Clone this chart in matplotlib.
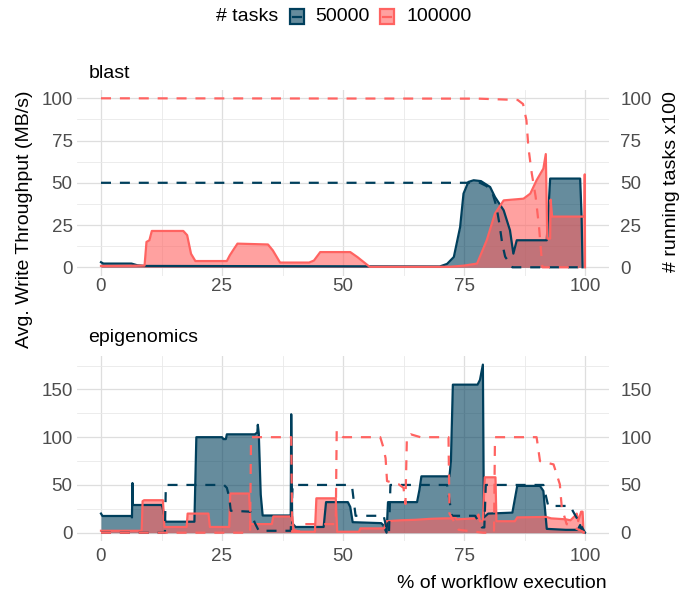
import matplotlib
matplotlib.use('Agg')
import matplotlib.pyplot as plt
from matplotlib.patches import Rectangle
from matplotlib.lines import Line2D
from matplotlib.ticker import MultipleLocator

plt.rcParams['font.family'] = ['Liberation Sans', 'DejaVu Sans']

BLUE = '#003f5c'
RED = '#ff6361'
TICK = '#4d4d4d'

# ---- blast: write throughput (MB/s) ----
blast_50k_x = [0, 0.5, 6.3, 7.5, 9, 70, 71.5, 72.9, 74.2, 74.9, 75.9, 77, 78.5, 80.4,
               81.4, 83.2, 84.5, 85.2, 85.9, 92.1, 92.8, 99.0, 99.3, 99.5]
blast_50k_y = [3, 2.2, 2.2, 1.2, 0.8, 0.5, 2, 6.1, 23.8, 43.6, 50.5, 51.5, 51, 47.5,
               41.6, 33.7, 21.9, 8.1, 16, 16, 52.5, 52.5, 29.8, 0]
blast_100k_x = [0, 9.0, 9.4, 10.0, 10.5, 17.0, 17.8, 18.6, 19.5, 26.0, 26.6, 27.5, 28.2,
                34.5, 35.5, 37.0, 43.0, 44.0, 45.3, 51.5, 53.0, 55.5, 72.0, 75.0, 77.7,
                79.7, 81.4, 83.2, 87.3, 88.7, 90.0, 91.4, 91.9, 92.2, 92.8, 92.9, 93.2,
                99.9, 99.95, 100]
blast_100k_y = [0.8, 1.0, 15, 16, 21.5, 21.5, 19, 8, 3.7, 3.7, 7, 11, 14,
                13.5, 10, 2.8, 2.8, 4, 9, 9, 6, 0.3, 0.3, 1, 2.2,
                16, 31.8, 39.6, 40.6, 43.6, 51.5, 58.4, 67, 17, 17, 40, 30,
                30, 55, 0]
# ---- blast: running tasks (x100) ----
blast_50k_tasks_x = [0, 78.3, 79.7, 80.9, 81.7, 82.3, 82.9, 83.5, 85, 98.7]
blast_50k_tasks_y = [50, 50, 48, 43.8, 36, 26, 14, 6.3, 0, 0]
blast_100k_tasks_x = [0, 78, 86.1, 87.2, 87.9, 88.3, 89.0, 89.8, 90.5, 90.9, 91.2, 98.7]
blast_100k_tasks_y = [100, 99.8, 99, 96.6, 87, 71, 55.6, 41.8, 24, 10, 0, 0]

# ---- epigenomics: write throughput (MB/s) ----
epi_50k_x = [0, 0.3, 6.3, 6.4, 6.5, 6.6, 12.5, 12.7, 13.3, 19.3, 19.7, 25.0, 25.3, 25.8,
             26.0, 31.8, 32.3, 32.4, 32.6, 33.0, 33.4, 39.2, 39.3, 39.5, 40.2, 46.0,
             46.5, 51.0, 51.5, 52.0, 57.9, 58.3, 59.0, 59.3, 65.3, 65.8, 66.2, 72.0,
             72.3, 72.7, 77.8, 78.3, 78.9, 79.0, 79.1, 80.0, 85.0, 85.5, 86.0, 90.7,
             91.4, 92.1, 96.0, 98.5, 99.0, 99.3, 100]
epi_50k_y = [20, 17.5, 17.5, 16, 52, 29, 29, 27, 11.5, 11.5, 100, 100, 98, 98,
             103, 103, 105, 113, 104, 40, 18, 18, 124, 10, 6, 6,
             32, 32, 27, 11, 10, 8, 0, 32, 32, 45, 59, 59,
             75, 155, 155, 160, 176, 100, 16, 20, 21, 35, 49, 49,
             43.7, 4, 3, 3, 8, 2, 0]
epi_100k_x = [0, 8.4, 8.6, 8.9, 12.8, 13.1, 17.7, 17.9, 22.2, 22.5, 26.5, 26.7, 30.6,
              30.9, 35.3, 35.6, 39.5, 39.8, 41.0, 44.2, 44.5, 48.5, 48.8, 53.3, 53.6,
              58.5, 58.9, 62.0, 65.0, 68.0, 71.0, 72.5, 73.0, 73.5, 77.5, 78.0, 78.3,
              78.9, 79.3, 81.5, 81.7, 85.5, 86.0, 92.0, 93.0, 96.0, 97.0, 98.0, 98.3,
              98.6, 99.2, 99.5, 99.7]
epi_100k_y = [2, 2, 33, 34, 34, 6, 6, 20, 20, 6, 6, 41, 41,
              9, 9, 17, 17, 3, 1, 1, 36, 36, 1, 1, 4.5,
              4.5, 12, 13, 13.5, 14.5, 15, 15, 17, 14, 15, 19, 12,
              12, 58, 58, 12, 12, 16, 16.5, 15, 14, 13, 18, 20,
              12, 22, 22, 0]
# ---- epigenomics: running tasks (x100) ----
epi_50k_tasks_x = [0, 13.2, 13.4, 25.4, 26.0, 26.5, 26.8, 30.9, 31.8, 32.6, 39.2, 39.6,
                   51.5, 51.9, 52.6, 58.4, 59.2, 59.5, 59.8, 71.5, 72.5, 77.3, 78.7,
                   79.2, 79.5, 91.4, 92.4, 96.9, 100]
epi_50k_tasks_y = [0, 0, 50, 50, 47, 37, 23, 22, 10, 2, 2, 50,
                   50, 47, 17.7, 17.7, 0, 0, 50, 50, 17.7, 17.7, 5.5,
                   5.5, 50, 50, 28, 28, 0]
epi_100k_tasks_x = [0, 30.8, 31.0, 39.3, 39.5, 41.0, 42.0, 48.5, 48.7, 50.0, 57.7, 58.3,
                    58.8, 59.1, 61.5, 62.5, 62.9, 63.2, 64.0, 66.0, 71.8, 72.0, 73.9,
                    79.0, 81.2, 81.4, 90.0, 90.7, 93.5, 94.8, 95.2, 96.2, 100]
epi_100k_tasks_y = [0, 0, 100, 100, 1, 1, 9, 9, 107, 100, 100, 90,
                    78, 54, 50.7, 47, 30, 100, 103, 100, 100, 20, 3,
                    0, 0, 100, 100, 75, 71.5, 50.7, 26.4, 9, 0]

x_ticks = [0, 25, 50, 75, 100]

W, H = 694, 591
fig = plt.figure(figsize=(W / 100, H / 100), dpi=100)


def px_rect(x0, y0, x1, y1):
    # pixel box (top-left origin) -> figure fraction rect
    return [x0 / W, 1 - y1 / H, (x1 - x0) / W, (y1 - y0) / H]


def draw_panel(rect, ylim, ymajor, yminor, series, tasks, xpad):
    ax = fig.add_axes(rect)
    ax.set_xlim(-5, 105)
    ax.set_ylim(*ylim)
    ax.xaxis.set_major_locator(MultipleLocator(25))
    ax.xaxis.set_minor_locator(MultipleLocator(12.5))
    ax.yaxis.set_major_locator(MultipleLocator(ymajor))
    ax.yaxis.set_minor_locator(MultipleLocator(yminor))
    ax.grid(which='major', color='#dedede', lw=0.9)
    ax.grid(which='minor', color='#e9e9e9', lw=0.6)
    ax.set_axisbelow(True)
    for s in ax.spines.values():
        s.set_visible(False)
    ax.tick_params(which='both', length=0, labelsize=13.5, labelcolor=TICK)
    ax.tick_params(axis='x', pad=xpad)
    ax.tick_params(axis='y', pad=3)

    for (xs, ys), c in zip(series, [BLUE, RED]):
        ax.fill_between(xs, ys, 0, color=c, alpha=0.6, lw=0)
        ax.plot(xs, ys, color=c, lw=1.6, solid_joinstyle='round')
    for (xs, ys), c in zip(tasks, [BLUE, RED]):
        ax.plot(xs, ys, color=c, lw=1.6, ls=(0, (4.5, 4)), dash_capstyle='butt')

    ax2 = ax.twinx()
    ax2.set_ylim(*ylim)
    ax2.yaxis.set_major_locator(MultipleLocator(ymajor))
    for s in ax2.spines.values():
        s.set_visible(False)
    ax2.tick_params(which='both', length=0, labelsize=13.5, labelcolor=TICK, pad=8)
    ax.set_xticks(x_ticks)
    return ax


ax_top = draw_panel(px_rect(76.8, 89.85, 609.2, 275.75), (-5, 105), 25, 12.5,
                    [(blast_50k_x, blast_50k_y), (blast_100k_x, blast_100k_y)],
                    [(blast_50k_tasks_x, blast_50k_tasks_y),
                     (blast_100k_tasks_x, blast_100k_tasks_y)], xpad=1.5)
ax_bot = draw_panel(px_rect(76.8, 356.2, 609.2, 541.1), (-8.8, 184.8), 50, 25,
                    [(epi_50k_x, epi_50k_y), (epi_100k_x, epi_100k_y)],
                    [(epi_50k_tasks_x, epi_50k_tasks_y),
                     (epi_100k_tasks_x, epi_100k_tasks_y)], xpad=5)

# panel titles and axis labels
fig.text(89 / W, 1 - 78.5 / H, 'blast', fontsize=14, va='baseline', ha='left')
fig.text(88 / W, 1 - 342 / H, 'epigenomics', fontsize=14, va='baseline', ha='left')
fig.text(25 / W, 1 - 219 / H, 'Avg. Write Throughput (MB/s)', fontsize=14,
         rotation=90, ha='center', va='center')
fig.text(671 / W, 1 - 182 / H, '# running tasks x100', fontsize=14,
         rotation=90, ha='center', va='center')
fig.text(607 / W, 1 - 588 / H, '% of workflow execution', fontsize=14,
         ha='right', va='baseline')

# legend on top
ly = 16.7
fig.text(216 / W, 1 - ly / H, '# tasks', fontsize=14, ha='left', va='center')
for x0, c, lab, tx in [(290, BLUE, '50000', 315), (380, RED, '100000', 407)]:
    fig.add_artist(Rectangle((x0 / W, 1 - (ly + 7.5) / H), 14 / W, 15 / H,
                             transform=fig.transFigure, facecolor=c, alpha=0.6, lw=0))
    fig.add_artist(Rectangle((x0 / W, 1 - (ly + 7.5) / H), 14 / W, 15 / H,
                             transform=fig.transFigure, facecolor='none',
                             edgecolor=c, lw=1.6))
    fig.add_artist(Line2D([(x0 + 3) / W, (x0 + 11) / W], [1 - ly / H, 1 - ly / H],
                          transform=fig.transFigure, color=c, lw=1.6))
    fig.text(tx / W, 1 - ly / H, lab, fontsize=14, ha='left', va='center')

fig.savefig('out.png', dpi=100)
